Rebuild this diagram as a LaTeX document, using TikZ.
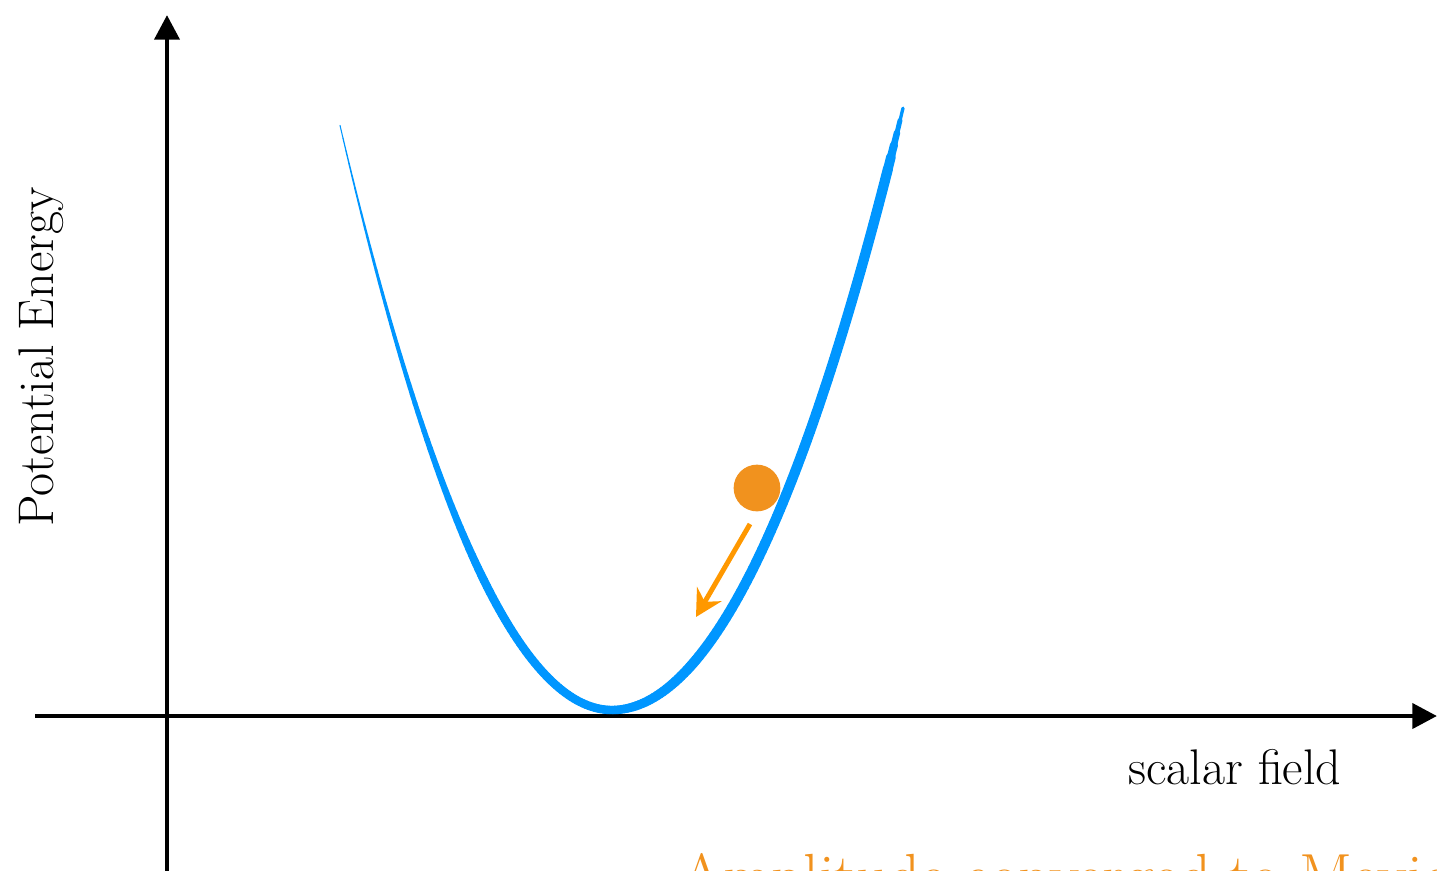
\documentclass[tikz,border=0pt]{standalone}
\usepackage{tikz}
\usetikzlibrary{arrows.meta}
\definecolor{wellblue}{RGB}{0,150,255}
\definecolor{ballorange}{RGB}{241,146,30}
\definecolor{pushorange}{RGB}{255,152,0}

\begin{document}
\begin{tikzpicture}[x=0.02cm,y=-0.02cm,
  axis/.style={line width=2.8pt,-{Triangle[length=14pt,width=14pt]}},
  axislabel/.style={font=\fontsize{28.5}{34}\selectfont,inner sep=0pt},
  well/.style={wellblue,line cap=round}]
\useasboundingbox (0,0) rectangle (1437,870);
%\draw[help lines,step=100] (0,0) grid (1437,870);

% axes
\coordinate (xstart) at (35,716);
\coordinate (xend) at (1437,716);
\coordinate (ystart) at (167,900);
\coordinate (yend) at (167,15);
\draw[axis] (xstart) -- (xend);
\draw[axis] (ystart) -- (yend);
\node[axislabel,rotate=90,anchor=base] (energy) at (53,357) {Potential Energy};
\node[axislabel,anchor=base west] (field) at (1128,784) {scalar field};

% potential well: left branch thin at the top, right branch thick
\foreach \xa in {340,343,...,610} {
  \pgfmathsetmacro\xb{\xa+3}
  \pgfmathsetmacro\lw{min(4.8,0.6+8*(\xa-340)/272)}
  \draw[well,line width=\lw pt] (\xa,{710-(0.0889*(\xa-612))^2}) -- (\xb,{710-(0.0889*(\xb-612))^2});
}
\foreach \xa in {612,615,...,900} {
  \pgfmathsetmacro\xb{\xa+3}
  \pgfmathsetmacro\lw{min(min(5.8,4.8+(\xa-612)/80),1+(903-\xa)*0.3)}
  \draw[well,line width=\lw pt] (\xa,{710-(0.0843*(\xa-612))^2}) -- (\xb,{710-(0.0843*(\xb-612))^2});
}

% ball rolling down
\node[circle,fill=ballorange,inner sep=0pt,minimum size=26.6pt] (ball) at (757,488) {};
\coordinate (pushstart) at (750,524);
\coordinate (pushend) at (696,617);
\draw[pushorange,line width=2.8pt,-{Stealth[length=15pt,width=16pt,inset=5pt]}] (pushstart) -- (pushend);

\node[font=\fontsize{35.5}{42}\selectfont,text=ballorange,anchor=base west,inner sep=0pt] (caption) at (680,897) {Amplitude converged to Mexican hat};
\end{tikzpicture}
\end{document}
